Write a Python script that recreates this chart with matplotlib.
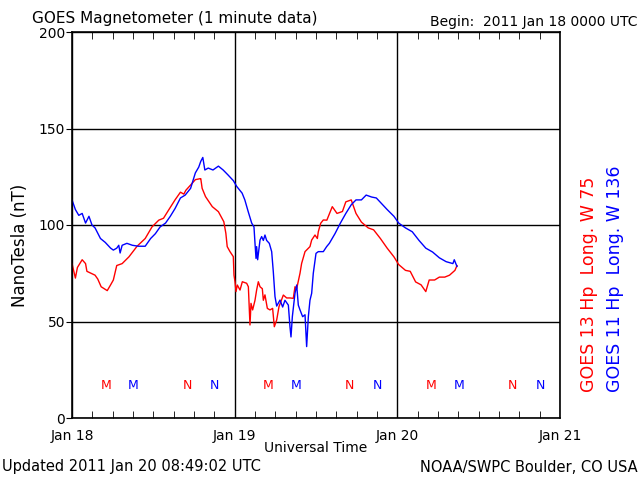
import numpy as np
import matplotlib
matplotlib.use('Agg')
import matplotlib.pyplot as plt

# hours since 2011 Jan 18 0000 UTC
hours_g13 = [0, 0.5, 0.8, 1.5, 2.0, 2.2, 2.8, 3.4, 3.8, 4.3, 5.2, 5.7, 6.1, 6.6, 7.4, 8.4, 9.6,
             10.8, 11.8, 12.8, 13.5, 14.3, 15.2, 16.0, 16.5, 16.8, 17.7, 18.2, 18.9, 19.0, 19.2,
             19.7, 20.7, 21.6, 22.4, 22.7, 22.9, 23.31, 23.8, 23.9, 24.05, 24.2, 24.39, 24.79,
             25.13, 25.77, 26.02, 26.26, 26.41, 26.65, 27.0, 27.24, 27.49, 27.74, 28.08, 28.23,
             28.47, 28.82, 29.21, 29.6, 29.85, 30.2, 30.54, 31.18, 31.67, 32.16, 32.65, 32.9,
             33.15, 33.64, 33.88, 34.38, 35.11, 35.36, 35.85, 36.2, 36.34, 36.69, 37.08,
             37.6, 38.4, 39.1, 39.9, 40.4, 41.2, 41.9, 42.7, 43.7, 44.5, 45.5, 46.5, 47.5, 48.2,
             49.2, 49.9, 50.7, 51.5, 52.2, 52.7, 53.5, 54.2, 55.0, 55.7, 56.5, 56.8]
hp_g13 = [80, 72.5, 78, 82, 80, 76, 75, 74, 72, 68, 66, 69, 71.5, 79, 80, 83.5, 89,
          93, 99, 102.5, 103.5, 108, 113, 117, 116, 118, 121.5, 123.5, 124, 124, 119,
          114.7, 109.5, 106.9, 101.7, 95.7, 88.8, 86.2, 83.6, 74, 70.6, 65.5, 68.9, 66.3,
          70.6, 69.8, 68, 48.2, 59.4, 56, 61, 66.3, 70.6, 68, 67, 61,
          63.8, 56.8, 56, 56.8, 47.3, 50.8, 57.7, 63.7, 62.2, 62.2, 62, 68,
          67, 75, 80.1, 86.2, 88.8, 92.2, 94.8, 93, 96.5, 100.9, 102.6,
          102.5, 109.5, 106, 107, 112, 113, 106, 101.5, 98.5, 97.5, 93, 88, 83.5, 79.5,
          76.5, 76, 70.5, 69, 65.5, 71.5, 71.5, 73, 73, 74, 76.5, 79]

hours_g11 = [0, 0.2, 0.5, 1.0, 1.5, 2.0, 2.5, 2.95, 3.4, 4.2, 4.9, 5.7, 6.1, 6.6, 6.9, 7.1, 7.4,
             8.1, 8.9, 9.8, 10.8, 11.6, 12.3, 13.0, 13.8, 14.5, 15.2, 16.0, 16.7, 17.5, 18.2,
             18.7, 19.0, 19.3, 19.6, 20.1, 20.8, 21.6, 22.3, 23.0, 23.8, 24.3, 25.1, 25.5, 26.0,
             26.51, 26.85, 27.0, 27.15, 27.24, 27.39, 27.74, 27.98, 28.23, 28.47, 28.72, 29.11,
             29.46, 29.7, 29.95, 30.2, 30.69, 31.08, 31.42, 31.92, 32.16, 32.31, 32.51, 32.9,
             33.15, 33.39, 33.64, 34.03, 34.38, 34.62, 34.87, 35.11, 35.36, 35.6, 36.0, 36.34,
             37.08, 37.57, 37.97, 38.8, 39.6, 40.4, 41.2, 41.9, 42.7, 43.4, 44.2, 44.9, 45.7,
             46.5, 47.5, 48.2, 49.2, 50.2, 51.2, 52.2, 53.2, 54.2, 55.2, 56.2, 56.4, 56.8]
hp_g11 = [113, 111, 108, 105, 106, 101, 104.5, 100, 98.5, 93, 91, 88, 87, 88, 89.5, 85.5, 89.5,
          90.5, 89.5, 89, 89, 93, 95.5, 99, 101, 104.5, 108.5, 114, 115.5, 119, 127,
          130, 133, 135, 128.5, 129.5, 128.5, 130.5, 128.5, 126, 123, 120, 116.5, 113, 106.9,
          101, 99, 90.5, 82.7, 88.8, 82, 92.2, 94, 92, 94.8, 92, 90.5,
          86.2, 75.8, 62.9, 58, 61.1, 57.5, 61, 58.5, 47.3, 42, 52.5, 64.6,
          68.9, 58.5, 56, 52.5, 53.5, 37, 52.5, 61, 64.6, 75, 85.3, 86.2,
          86.2, 88.8, 90.5, 95.5, 101, 106, 110.5, 113, 113, 115.5, 114.5, 114, 111,
          108, 104.5, 101, 98.5, 96.5, 92, 88, 86, 83, 81, 80, 82, 78.5]

day_ticks = [0, 24, 48, 72]
day_labels = ['Jan 18', 'Jan 19', 'Jan 20', 'Jan 21']

# local midnight (M) / noon (N) markers, UT hours
mn_g13 = [(5, 'M'), (17, 'N'), (29, 'M'), (41, 'N'), (53, 'M'), (65, 'N')]
mn_g11 = [(9.07, 'M'), (21.07, 'N'), (33.07, 'M'), (45.07, 'N'), (57.07, 'M'), (69.07, 'N')]

red = '#ff0000'
blue = '#0000ff'

fig = plt.figure(figsize=(6.4, 4.8), dpi=100)
ax = fig.add_axes([72/640, 62/480, 488/640, 386/480])

ax.plot(hours_g13, hp_g13, color=red, lw=1)
ax.plot(hours_g11, hp_g11, color=blue, lw=1)

for h, s in mn_g13:
    ax.text(h, 17, s, color=red, ha='center', va='center', fontsize=9)
for h, s in mn_g11:
    ax.text(h, 17, s, color=blue, ha='center', va='center', fontsize=9)

ax.set_xlim(0, 72)
ax.set_ylim(0, 200)
ax.set_xticks(day_ticks, day_labels)
ax.set_xticks(np.arange(0, 73, 3), minor=True)
ax.set_yticks([0, 50, 100, 150, 200])
ax.tick_params(axis='x', which='major', length=0, pad=8, labelsize=10)
ax.tick_params(axis='x', which='minor', direction='in', length=5, top=True, bottom=True)
ax.tick_params(axis='y', which='major', direction='out', length=4, pad=1, labelsize=10)
ax.grid(True, color='black', linewidth=1)
plt.setp(ax.spines.values(), linewidth=1.2)

fig.text(32/640, 1 - 18/480, 'GOES Magnetometer (1 minute data)', fontsize=11, va='center')
fig.text(638/640, 1 - 22/480, 'Begin:  2011 Jan 18 0000 UTC', fontsize=10, va='center', ha='right')
fig.text(20/640, 1 - 245/480, 'NanoTesla (nT)', fontsize=12, rotation=90, va='center', ha='center')
fig.text(316/640, 1 - 448/480, 'Universal Time', fontsize=10, va='center', ha='center')
fig.text(2/640, 1 - 467/480, 'Updated 2011 Jan 20 08:49:02 UTC', fontsize=10.5, va='center')
fig.text(638/640, 1 - 467/480, 'NOAA/SWPC Boulder, CO USA', fontsize=10.5, va='center', ha='right')
fig.text(589/640, 1 - 392/480, 'GOES 13 Hp  Long. W 75', color=red, fontsize=12.5,
         rotation=90, va='bottom', ha='center')
fig.text(615/640, 1 - 392/480, 'GOES 11 Hp  Long. W 136', color=blue, fontsize=12.5,
         rotation=90, va='bottom', ha='center')

fig.savefig('out.png', dpi=100)
